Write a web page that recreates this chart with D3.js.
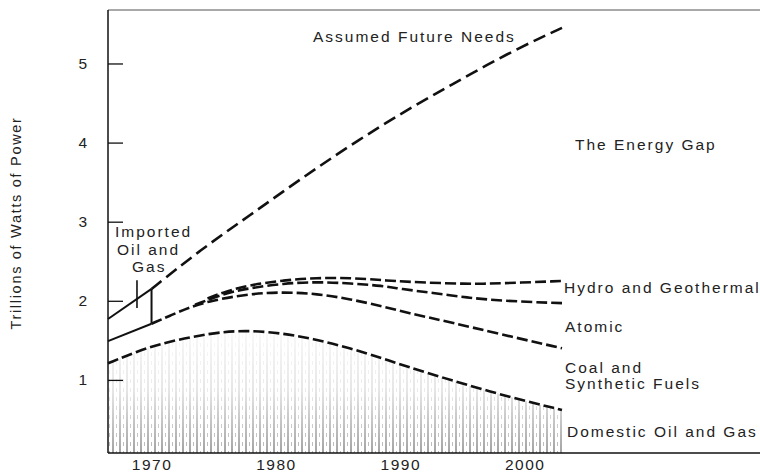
<!DOCTYPE html>
<html>
<head>
<meta charset="utf-8">
<script src="https://cdn.jsdelivr.net/npm/d3@7"></script>
<style>
  body { margin: 0; background: #fff; }
  text { font-family: "Liberation Sans", Arial, sans-serif; fill: #222; }
</style>
</head>
<body>
<svg id="chart" width="760" height="473"></svg>
<script>
// values (trillions of watts)
var needsYears = [1970, 1973.9, 1977.9, 1981.9, 1986, 1990.5, 1993.2, 1995.8, 1998.6, 2001.2, 2003];
var needsValues = [2.15, 2.64, 3.08, 3.53, 3.97, 4.41, 4.65, 4.88, 5.12, 5.32, 5.45];

var importYears = [1966.5, 1970];
var importTop = [1.77, 2.15];
var importBottom = [1.49, 1.71];

var hydroYears = [1974.5, 1976, 1977.9, 1980.6, 1983.3, 1986, 1988.6, 1990.5, 1995.4, 1998, 2003];
var hydroValues = [2.03, 2.12, 2.2, 2.26, 2.29, 2.29, 2.26, 2.24, 2.21, 2.22, 2.25];

var atomicYears = [1973.5, 1976, 1977.9, 1980.6, 1983.3, 1986, 1988.6, 1990, 1992.6, 1995.4, 1998, 2003];
var atomicValues = [1.95, 2.1, 2.16, 2.22, 2.24, 2.22, 2.19, 2.15, 2.1, 2.04, 2.0, 1.97];

var coalYears = [1970, 1971.6, 1973.1, 1974.7, 1977.9, 1980.6, 1983.3, 1986, 1988.6, 1990.5, 1994, 1998, 2003];
var coalValues = [1.71, 1.82, 1.92, 2.0, 2.09, 2.11, 2.09, 2.02, 1.93, 1.85, 1.73, 1.58, 1.4];

var domesticYears = [1966.5, 1969, 1971.2, 1974.7, 1977.5, 1980.6, 1983.3, 1986, 1988.6, 1990.5, 1994, 1998.8, 2003];
var domesticValues = [1.21, 1.37, 1.48, 1.59, 1.63, 1.59, 1.51, 1.4, 1.27, 1.17, 1.0, 0.78, 0.62];

var yTicks = [1, 2, 3, 4, 5];
var xTicks = [1970, 1980, 1990, 2000];

var svg = d3.select("#chart");
var plotL = 108, plotT = 10, plotB = 453, plotR = 760;

var x = d3.scaleLinear().domain([1966.5, 2003]).range([plotL, 562]);
var y = d3.scaleLinear().domain([0.076, 5.676]).range([plotB, plotT]);

function pts(xs, vs) { return xs.map(function(d, i) { return [d, vs[i]]; }); }

var line = d3.line()
  .x(function(d) { return x(d[0]); })
  .y(function(d) { return y(d[1]); })
  .curve(d3.curveBasis);
var straight = d3.line()
  .x(function(d) { return x(d[0]); })
  .y(function(d) { return y(d[1]); });

// hatching for domestic oil and gas
var defs = svg.append("defs");
var pat = defs.append("pattern")
  .attr("id", "hatch").attr("patternUnits", "userSpaceOnUse")
  .attr("width", 7).attr("height", 9);
pat.append("line").attr("x1", 1).attr("x2", 1).attr("y1", 0).attr("y2", 9)
  .attr("stroke", "#444").attr("stroke-width", 1.1);
pat.append("line").attr("x1", 4.5).attr("x2", 4.5).attr("y1", 1).attr("y2", 5)
  .attr("stroke", "#999").attr("stroke-width", 0.8);
var grad = defs.append("linearGradient").attr("id", "fade")
  .attr("x1", 0).attr("x2", 0).attr("y1", 0).attr("y2", 1);
grad.append("stop").attr("offset", "0").attr("stop-color", "#fff").attr("stop-opacity", 0.05);
grad.append("stop").attr("offset", "0.5").attr("stop-color", "#fff").attr("stop-opacity", 0.25);
grad.append("stop").attr("offset", "1").attr("stop-color", "#fff").attr("stop-opacity", 0.9);
defs.append("mask").attr("id", "fadeMask").attr("maskUnits", "userSpaceOnUse")
  .attr("x", 0).attr("y", 0).attr("width", 760).attr("height", 473)
  .append("rect").attr("x", plotL).attr("y", y(1.65)).attr("width", 460)
  .attr("height", plotB - y(1.65)).attr("fill", "url(#fade)");

var area = d3.area()
  .x(function(d) { return x(d[0]); })
  .y0(plotB)
  .y1(function(d) { return y(d[1]); })
  .curve(d3.curveBasis);

svg.append("path")
  .datum(pts(domesticYears, domesticValues))
  .attr("d", area)
  .attr("fill", "url(#hatch)")
  .attr("mask", "url(#fadeMask)");

// frame
svg.append("line").attr("x1", plotL).attr("x2", plotR).attr("y1", plotT).attr("y2", plotT)
  .attr("stroke", "#555").attr("stroke-width", 1.2);
svg.append("line").attr("x1", plotL).attr("x2", plotL).attr("y1", plotT).attr("y2", plotB)
  .attr("stroke", "#111").attr("stroke-width", 1.5);
svg.append("line").attr("x1", plotL).attr("x2", plotR).attr("y1", plotB).attr("y2", plotB)
  .attr("stroke", "#111").attr("stroke-width", 1.5);

// y axis, ticks pointing inward
var yAxis = svg.append("g").attr("transform", "translate(" + plotL + ",0)")
  .call(d3.axisLeft(y).tickValues(yTicks).tickSize(-15).tickPadding(21).tickFormat(d3.format("d")));
yAxis.select(".domain").remove();
yAxis.selectAll("line").attr("stroke", "#111").attr("stroke-width", 1.3);
yAxis.selectAll("text").style("font-size", "15.5px").attr("fill", "#222")
  .style("font-family", "Liberation Sans, Arial, sans-serif");

var xAxis = svg.append("g").attr("transform", "translate(0," + plotB + ")")
  .call(d3.axisBottom(x).tickValues(xTicks).tickSize(0).tickPadding(6).tickFormat(d3.format("d")));
xAxis.select(".domain").remove();
xAxis.selectAll("text").style("font-size", "15.5px").attr("fill", "#222")
  .style("letter-spacing", "1.5px")
  .style("font-family", "Liberation Sans, Arial, sans-serif");

svg.append("text")
  .attr("transform", "translate(21,223) rotate(-90)")
  .attr("text-anchor", "middle")
  .attr("fill", "#333")
  .style("font-size", "14.5px").style("letter-spacing", "1.7px")
  .text("Trillions of Watts of Power");

// imported oil and gas box
var ink = "#111";
svg.append("path").datum(pts(importYears, importTop)).attr("d", straight)
  .attr("fill", "none").attr("stroke", ink).attr("stroke-width", 2);
svg.append("path").datum(pts(importYears, importBottom)).attr("d", straight)
  .attr("fill", "none").attr("stroke", ink).attr("stroke-width", 2);
svg.append("line").attr("x1", x(1970)).attr("x2", x(1970))
  .attr("y1", y(importTop[1])).attr("y2", y(importBottom[1]))
  .attr("stroke", ink).attr("stroke-width", 2);
svg.append("line").attr("x1", x(1968.83)).attr("x2", x(1968.83))
  .attr("y1", y(2.26)).attr("y2", y(1.91))
  .attr("stroke", ink).attr("stroke-width", 1.6);

// dashed curves
var series = [
  { p: pts(needsYears, needsValues), dash: "13,6" },
  { p: pts(hydroYears, hydroValues), dash: "11,4" },
  { p: pts(atomicYears, atomicValues), dash: "11,4" },
  { p: pts(coalYears, coalValues), dash: "11,4" },
  { p: pts(domesticYears, domesticValues), dash: "11,4" }
];
svg.selectAll(".curve").data(series).enter().append("path")
  .attr("class", "curve")
  .attr("d", function(d) { return line(d.p); })
  .attr("fill", "none").attr("stroke", ink).attr("stroke-width", 2.6)
  .attr("stroke-dasharray", function(d) { return d.dash; });

// labels
var labels = [
  ["Assumed Future Needs", 313, 42],
  ["The Energy Gap", 575, 150],
  ["Hydro and Geothermal", 564, 293],
  ["Atomic", 565, 332],
  ["Coal and", 565, 373],
  ["Synthetic Fuels", 565, 389],
  ["Domestic Oil and Gas", 567, 437],
  ["Imported", 115, 237],
  ["Oil and", 117, 255],
  ["Gas", 132, 272]
];
svg.selectAll(".lab").data(labels).enter().append("text")
  .attr("class", "lab")
  .attr("x", function(d) { return d[1]; })
  .attr("y", function(d) { return d[2]; })
  .style("font-size", "15.5px").style("letter-spacing", "2px")
  .text(function(d) { return d[0]; });
</script>
</body>
</html>
